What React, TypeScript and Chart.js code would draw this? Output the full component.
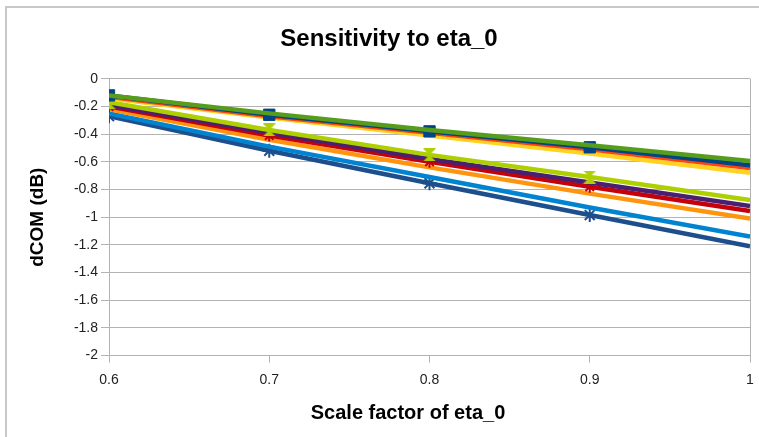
import React, { useEffect, useRef } from "react";
import { Chart, registerables } from "chart.js";

Chart.register(...registerables);

const scaleFactors = [0.6, 0.7, 0.8, 0.9, 1.0];
const xTickValues = [0.6, 0.7, 0.8, 0.9, 1.0];
const yTickValues = [0, -0.2, -0.4, -0.6, -0.8, -1, -1.2, -1.4, -1.6, -1.8, -2];
const xAxisTitle = "Scale factor of eta_0";

const greenSeries = [-0.12, -0.25, -0.37, -0.48, -0.595];
const darkBlueSeries = [-0.12, -0.26, -0.38, -0.495, -0.625];
const redSeries = [-0.13, -0.27, -0.39, -0.51, -0.645];
const yellowSeries = [-0.14, -0.28, -0.41, -0.54, -0.68];
const limeSeries = [-0.17, -0.37, -0.55, -0.71, -0.877];
const purpleSeries = [-0.19, -0.39, -0.58, -0.75, -0.92];
const maroonSeries = [-0.2, -0.41, -0.6, -0.78, -0.955];
const orangeSeries = [-0.22, -0.44, -0.64, -0.83, -1.01];
const lightBlueSeries = [-0.25, -0.49, -0.71, -0.93, -1.14];
const navySeries = [-0.27, -0.52, -0.755, -0.985, -1.21];

function hourglass(color: string, size: number) {
  const c = document.createElement("canvas");
  c.width = size;
  c.height = size;
  const ctx = c.getContext("2d")!;
  ctx.fillStyle = color;
  ctx.beginPath();
  ctx.moveTo(0, 0);
  ctx.lineTo(size, 0);
  ctx.lineTo(0, size);
  ctx.lineTo(size, size);
  ctx.closePath();
  ctx.fill();
  return c;
}

const FONT = "'Liberation Sans', Arial, sans-serif";

export default function App() {
  const ref = useRef<HTMLCanvasElement | null>(null);

  useEffect(() => {
    if (!ref.current) return;
    const mk = (
      label: string,
      values: number[],
      color: string,
      style: any = false,
      radius = 0,
      bw = 1
    ) => ({
      label,
      data: scaleFactors.map((x, i) => ({ x, y: values[i] })),
      borderColor: color,
      backgroundColor: color,
      borderWidth: 4.5,
      pointStyle: style,
      pointRadius: style ? scaleFactors.map((_, i) => (i === scaleFactors.length - 1 ? 0 : radius)) : 0,
      pointBorderWidth: bw,
      pointBorderColor: color,
      pointBackgroundColor: color,
      tension: 0,
    });

    const datasets = [
      mk("S1", greenSeries, "#579d1c"),
      mk("S2", darkBlueSeries, "#004586", "rect", 8),
      mk("S3", redSeries, "#ff420e"),
      mk("S4", yellowSeries, "#ffd320"),
      mk("S5", limeSeries, "#aecf00", hourglass("#aecf00", 13), 7),
      mk("S6", purpleSeries, "#4b1f6f"),
      mk("S7", maroonSeries, "#c5000b", "star", 6, 2),
      mk("S8", orangeSeries, "#ff950e"),
      mk("S9", lightBlueSeries, "#0084d1"),
      mk("S10", navySeries, "#1d4f8c", "star", 7, 2),
    ];

    const tickFont = { family: FONT, size: 14 };

    const xTitlePlugin = {
      id: "xTitle",
      afterDraw(c: any) {
        const ctx = c.ctx;
        ctx.save();
        ctx.font = `bold 20px ${FONT}`;
        ctx.fillStyle = "#000";
        ctx.textAlign = "center";
        ctx.textBaseline = "middle";
        ctx.fillText(xAxisTitle, 408, 413);
        ctx.restore();
      },
    };

    const chart = new Chart(ref.current, {
      type: "line",
      data: { datasets: datasets as any },
      plugins: [xTitlePlugin],
      options: {
        animation: false,
        responsive: false,
        layout: { padding: { left: 26, right: 7, top: 0, bottom: 0 } },
        plugins: {
          legend: { display: false },
          tooltip: { enabled: false },
          title: {
            display: true,
            text: "Sensitivity to eta_0",
            color: "#000",
            font: { family: FONT, size: 24, weight: "bold" },
            padding: { top: 25, bottom: 25 },
          },
        },
        scales: {
          x: {
            type: "linear",
            min: 0.6,
            max: 1,
            afterBuildTicks: (s: any) => {
              s.ticks = xTickValues.map((v) => ({ value: v }));
            },
            afterFit: (s: any) => {
              s.height = 81.5;
              s.paddingRight = 0;
              s.paddingLeft = 0;
            },
            ticks: {
              color: "#222",
              font: tickFont,
              padding: 9,
              maxRotation: 0,
              callback: (v: any) => String(Number(Number(v).toFixed(1))),
            },
            grid: {
              color: (c: any) => (c.tick && Math.abs(c.tick.value - 1) < 1e-6 ? "#b3b3b3" : "rgba(0,0,0,0)"),
              tickColor: "#b3b3b3",
              tickLength: 7,
              drawTicks: true,
            },
            border: { display: true, color: "#b3b3b3" },
            title: { display: false },
          },
          y: {
            type: "linear",
            min: -2,
            max: 0,
            afterBuildTicks: (s: any) => {
              s.ticks = yTickValues.map((v) => ({ value: v }));
            },
            afterFit: (s: any) => {
              s.width = 83;
            },
            ticks: {
              color: "#222",
              font: tickFont,
              padding: 3,
              callback: (v: any) => String(Number(Number(v).toFixed(1))),
            },
            grid: {
              color: "#b3b3b3",
              tickColor: "#b3b3b3",
              tickLength: 8,
            },
            border: { display: true, color: "#b3b3b3" },
            title: {
              display: true,
              text: "dCOM (dB)",
              color: "#000",
              font: { family: FONT, size: 19, weight: "bold" },
              padding: { top: 0, bottom: 0 },
            },
          },
        },
      },
    });
    return () => chart.destroy();
  }, []);

  return (
    <div style={{ position: "fixed", left: 0, top: 0, width: 759, height: 437, background: "#fff" }}>
      <div
        style={{
          position: "absolute",
          left: 5,
          top: 6,
          right: 0,
          bottom: 0,
          borderTop: "2px solid #c8c8c8",
          borderLeft: "2px solid #c8c8c8",
        }}
      />
      <canvas ref={ref} width={759} height={437} style={{ position: "absolute", left: 0, top: 0 }} />
    </div>
  );
}
